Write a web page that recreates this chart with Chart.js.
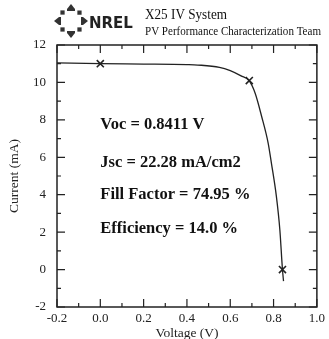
<!DOCTYPE html>
<html>
<head>
<meta charset="utf-8">
<script src="https://cdn.jsdelivr.net/npm/chart.js@4/dist/chart.umd.min.js"></script>
<style>
  html, body { margin: 0; padding: 0; background: #fff; }
  #wrap { width: 329px; height: 339px; }
</style>
</head>
<body>
<div id="wrap"><canvas id="ivChart" width="329" height="339"></canvas></div>
<script>
// I-V curve
const voltage = [-0.2, 0.0, 0.2, 0.4, 0.45, 0.55, 0.6, 0.65, 0.688, 0.715, 0.745, 0.775, 0.79, 0.813, 0.829, 0.8411, 0.846];
const current = [11.05, 11.0, 10.98, 10.95, 10.93, 10.81, 10.63, 10.35, 10.08, 9.42, 8.18, 6.76, 5.69, 3.91, 2.13, 0.0, -0.62];

// marked points (Isc, max power, Voc)
const markV = [0.0, 0.688, 0.8411];
const markI = [11.0, 10.1, 0.0];

const xTicks = [-0.2, 0.0, 0.2, 0.4, 0.6, 0.8, 1.0];
const yTicks = [-2, 0, 2, 4, 6, 8, 10, 12];

const headerLines = ["X25 IV System", "PV Performance Characterization Team"];
const resultLines = ["Voc = 0.8411 V", "Jsc = 22.28 mA/cm2", "Fill Factor = 74.95 %", "Efficiency = 14.0 %"];
const resultYValues = [7.75, 5.7, 4.0, 2.2];

const serif = "'Liberation Serif', 'Times New Roman', serif";

const framePlugin = {
    id: 'frame',
    afterDraw(chart) {
        const ctx = chart.ctx;
        const a = chart.chartArea;
        const xs = chart.scales.x;
        const ys = chart.scales.y;
        ctx.save();
        ctx.strokeStyle = '#222';
        ctx.lineWidth = 1.5;
        ctx.strokeRect(a.left, a.top, a.right - a.left, a.bottom - a.top);

        // inward ticks on all four sides
        ctx.lineWidth = 1.2;
        for (let v = -0.2; v <= 1.0001; v += 0.1) {
            const px = xs.getPixelForValue(v);
            const major = Math.abs(Math.round(v * 10)) % 2 === 0;
            const len = major ? 8 : 4;
            ctx.beginPath();
            ctx.moveTo(px, a.bottom); ctx.lineTo(px, a.bottom - len);
            ctx.moveTo(px, a.top); ctx.lineTo(px, a.top + len);
            ctx.stroke();
        }
        for (let v = -2; v <= 12; v += 1) {
            const py = ys.getPixelForValue(v);
            const len = v % 2 === 0 ? 8 : 4;
            ctx.beginPath();
            ctx.moveTo(a.left, py); ctx.lineTo(a.left + len, py);
            ctx.moveTo(a.right, py); ctx.lineTo(a.right - len, py);
            ctx.stroke();
        }

        // results text
        ctx.fillStyle = '#111';
        ctx.font = 'bold 16.5px ' + serif;
        ctx.textBaseline = 'middle';
        ctx.textAlign = 'left';
        const tx = xs.getPixelForValue(0.0);
        resultLines.forEach((t, i) => {
            ctx.fillText(t, tx, ys.getPixelForValue(resultYValues[i]));
        });

        // header
        ctx.font = '14.5px ' + serif;
        ctx.fillText(headerLines[0], 145, 15, 82);
        ctx.font = '13px ' + serif;
        ctx.fillText(headerLines[1], 145, 32, 176);

        // logo: ring of arrows + NREL
        const cx = 71, cy = 21, r = 12;
        ctx.fillStyle = '#333';
        for (let k = 0; k < 8; k++) {
            const ang = k * Math.PI / 4;
            const px = cx + r * Math.cos(ang);
            const py = cy + r * Math.sin(ang);
            ctx.save();
            ctx.translate(px, py);
            ctx.rotate(ang);
            ctx.beginPath();
            if (k % 2 === 0) {
                ctx.moveTo(5, 0); ctx.lineTo(0, -4); ctx.lineTo(-2, -4);
                ctx.lineTo(-2, 4); ctx.lineTo(0, 4);
            } else {
                ctx.moveTo(3, 0); ctx.lineTo(0, -3); ctx.lineTo(-3, 0); ctx.lineTo(0, 3);
            }
            ctx.closePath();
            ctx.fill();
            ctx.restore();
        }
        ctx.font = 'bold 15px "DejaVu Sans", sans-serif';
        ctx.fillStyle = '#222';
        ctx.fillText('NREL', 89, 24, 44);
        ctx.restore();
    }
};

const ctx = document.getElementById('ivChart').getContext('2d');

new Chart(ctx, {
    type: 'line',
    data: {
        datasets: [{
            data: voltage.map((v, i) => ({ x: v, y: current[i] })),
            borderColor: '#222',
            borderWidth: 1.3,
            pointRadius: 0,
            fill: false,
            cubicInterpolationMode: 'monotone'
        }, {
            data: markV.map((v, i) => ({ x: v, y: markI[i] })),
            showLine: false,
            pointStyle: 'crossRot',
            pointRadius: 5,
            pointBorderWidth: 1.6,
            pointBorderColor: '#222'
        }]
    },
    options: {
        responsive: false,
        animation: false,
        layout: { padding: { top: 45, right: 10, left: 0, bottom: 0 } },
        plugins: {
            legend: { display: false },
            tooltip: { enabled: false }
        },
        scales: {
            x: {
                type: 'linear',
                min: -0.2,
                max: 1.0,
                afterBuildTicks: scale => { scale.ticks = xTicks.map(v => ({ value: v })); },
                afterFit: scale => { scale.height = 32; },
                grid: { display: false, drawTicks: false },
                border: { display: false },
                ticks: {
                    padding: 4,
                    color: '#222',
                    font: { family: serif, size: 13 },
                    callback: v => Number(v).toFixed(1)
                },
                title: {
                    display: true,
                    text: 'Voltage (V)',
                    color: '#222',
                    font: { family: serif, size: 13.5, lineHeight: 1 },
                    padding: { top: 0, bottom: -1 }
                }
            },
            y: {
                type: 'linear',
                min: -2,
                max: 12,
                afterBuildTicks: scale => { scale.ticks = yTicks.map(v => ({ value: v })); },
                afterFit: scale => { scale.width = 57; },
                grid: { display: false, drawTicks: false },
                border: { display: false },
                ticks: {
                    padding: 11,
                    color: '#222',
                    font: { family: serif, size: 13 }
                },
                title: {
                    display: true,
                    text: 'Current (mA)',
                    color: '#222',
                    font: { family: serif, size: 13.5 },
                    padding: { top: 6, bottom: 0 }
                }
            }
        }
    },
    plugins: [framePlugin]
});
</script>
</body>
</html>
